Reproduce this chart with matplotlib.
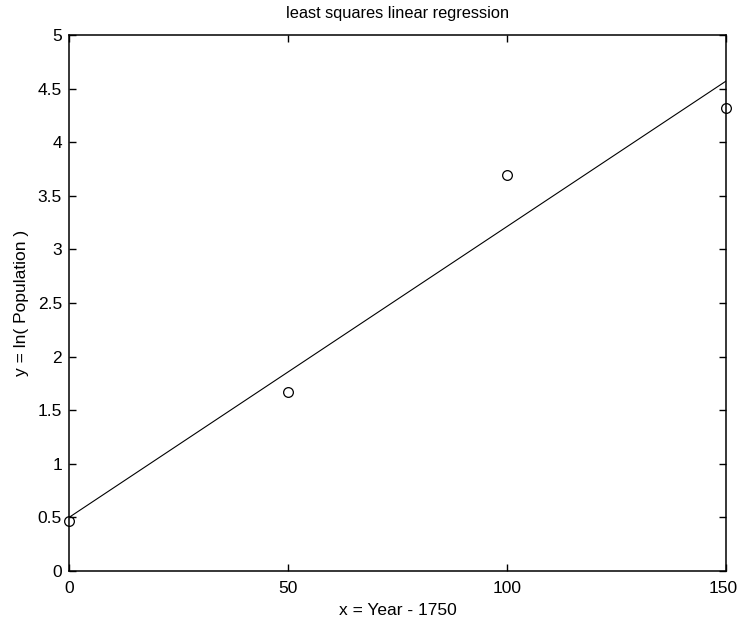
import numpy as np
import matplotlib
matplotlib.use("Agg")
import matplotlib.pyplot as plt
from matplotlib.transforms import ScaledTranslation

# population data, x = year - 1750, y = ln(population)
years = [0, 50, 100, 150]
ln_pop = [0.47, 1.67, 3.69, 4.32]

# least squares fit line evaluated at the ends of the range
fit_x = [0, 150]
fit_y = [0.50, 4.57]

plt.rcParams["font.family"] = ["Liberation Sans", "DejaVu Sans"]

fig = plt.figure(figsize=(7.39, 6.24), dpi=100)
ax = fig.add_axes([0.0934, 0.0849, 0.8890, 0.8590])

ax.plot(fit_x, fit_y, color="black", lw=0.8)
ax.plot(years, ln_pop, "o", mfc="none", mec="black", ms=7, mew=0.9, clip_on=False)

ax.set_xlim(0, 150)
ax.set_ylim(0, 5)
ax.set_xticks([0, 50, 100, 150])
ax.set_yticks(np.arange(0, 5.01, 0.5))
ax.set_yticklabels(["0", "0.5", "1", "1.5", "2", "2.5", "3", "3.5", "4", "4.5", "5"])
ax.tick_params(direction="in", length=5, width=1, top=True, right=True,
               labelsize=12.5, pad=5)
ax.tick_params(axis="x", pad=7)
for s in ax.spines.values():
    s.set_linewidth(1.1)

# keep the last x tick label inside the figure
last = ax.get_xticklabels()[-1]
last.set_transform(last.get_transform() + ScaledTranslation(-3 / 100, 0, fig.dpi_scale_trans))

ax.set_xlabel("x = Year - 1750", fontsize=12.5, labelpad=5)
ax.set_ylabel("y = ln( Population )", fontsize=12.5, labelpad=6)
ax.set_title("least squares linear regression", fontsize=11.8, pad=12)

fig.savefig("out.png", dpi=100)
